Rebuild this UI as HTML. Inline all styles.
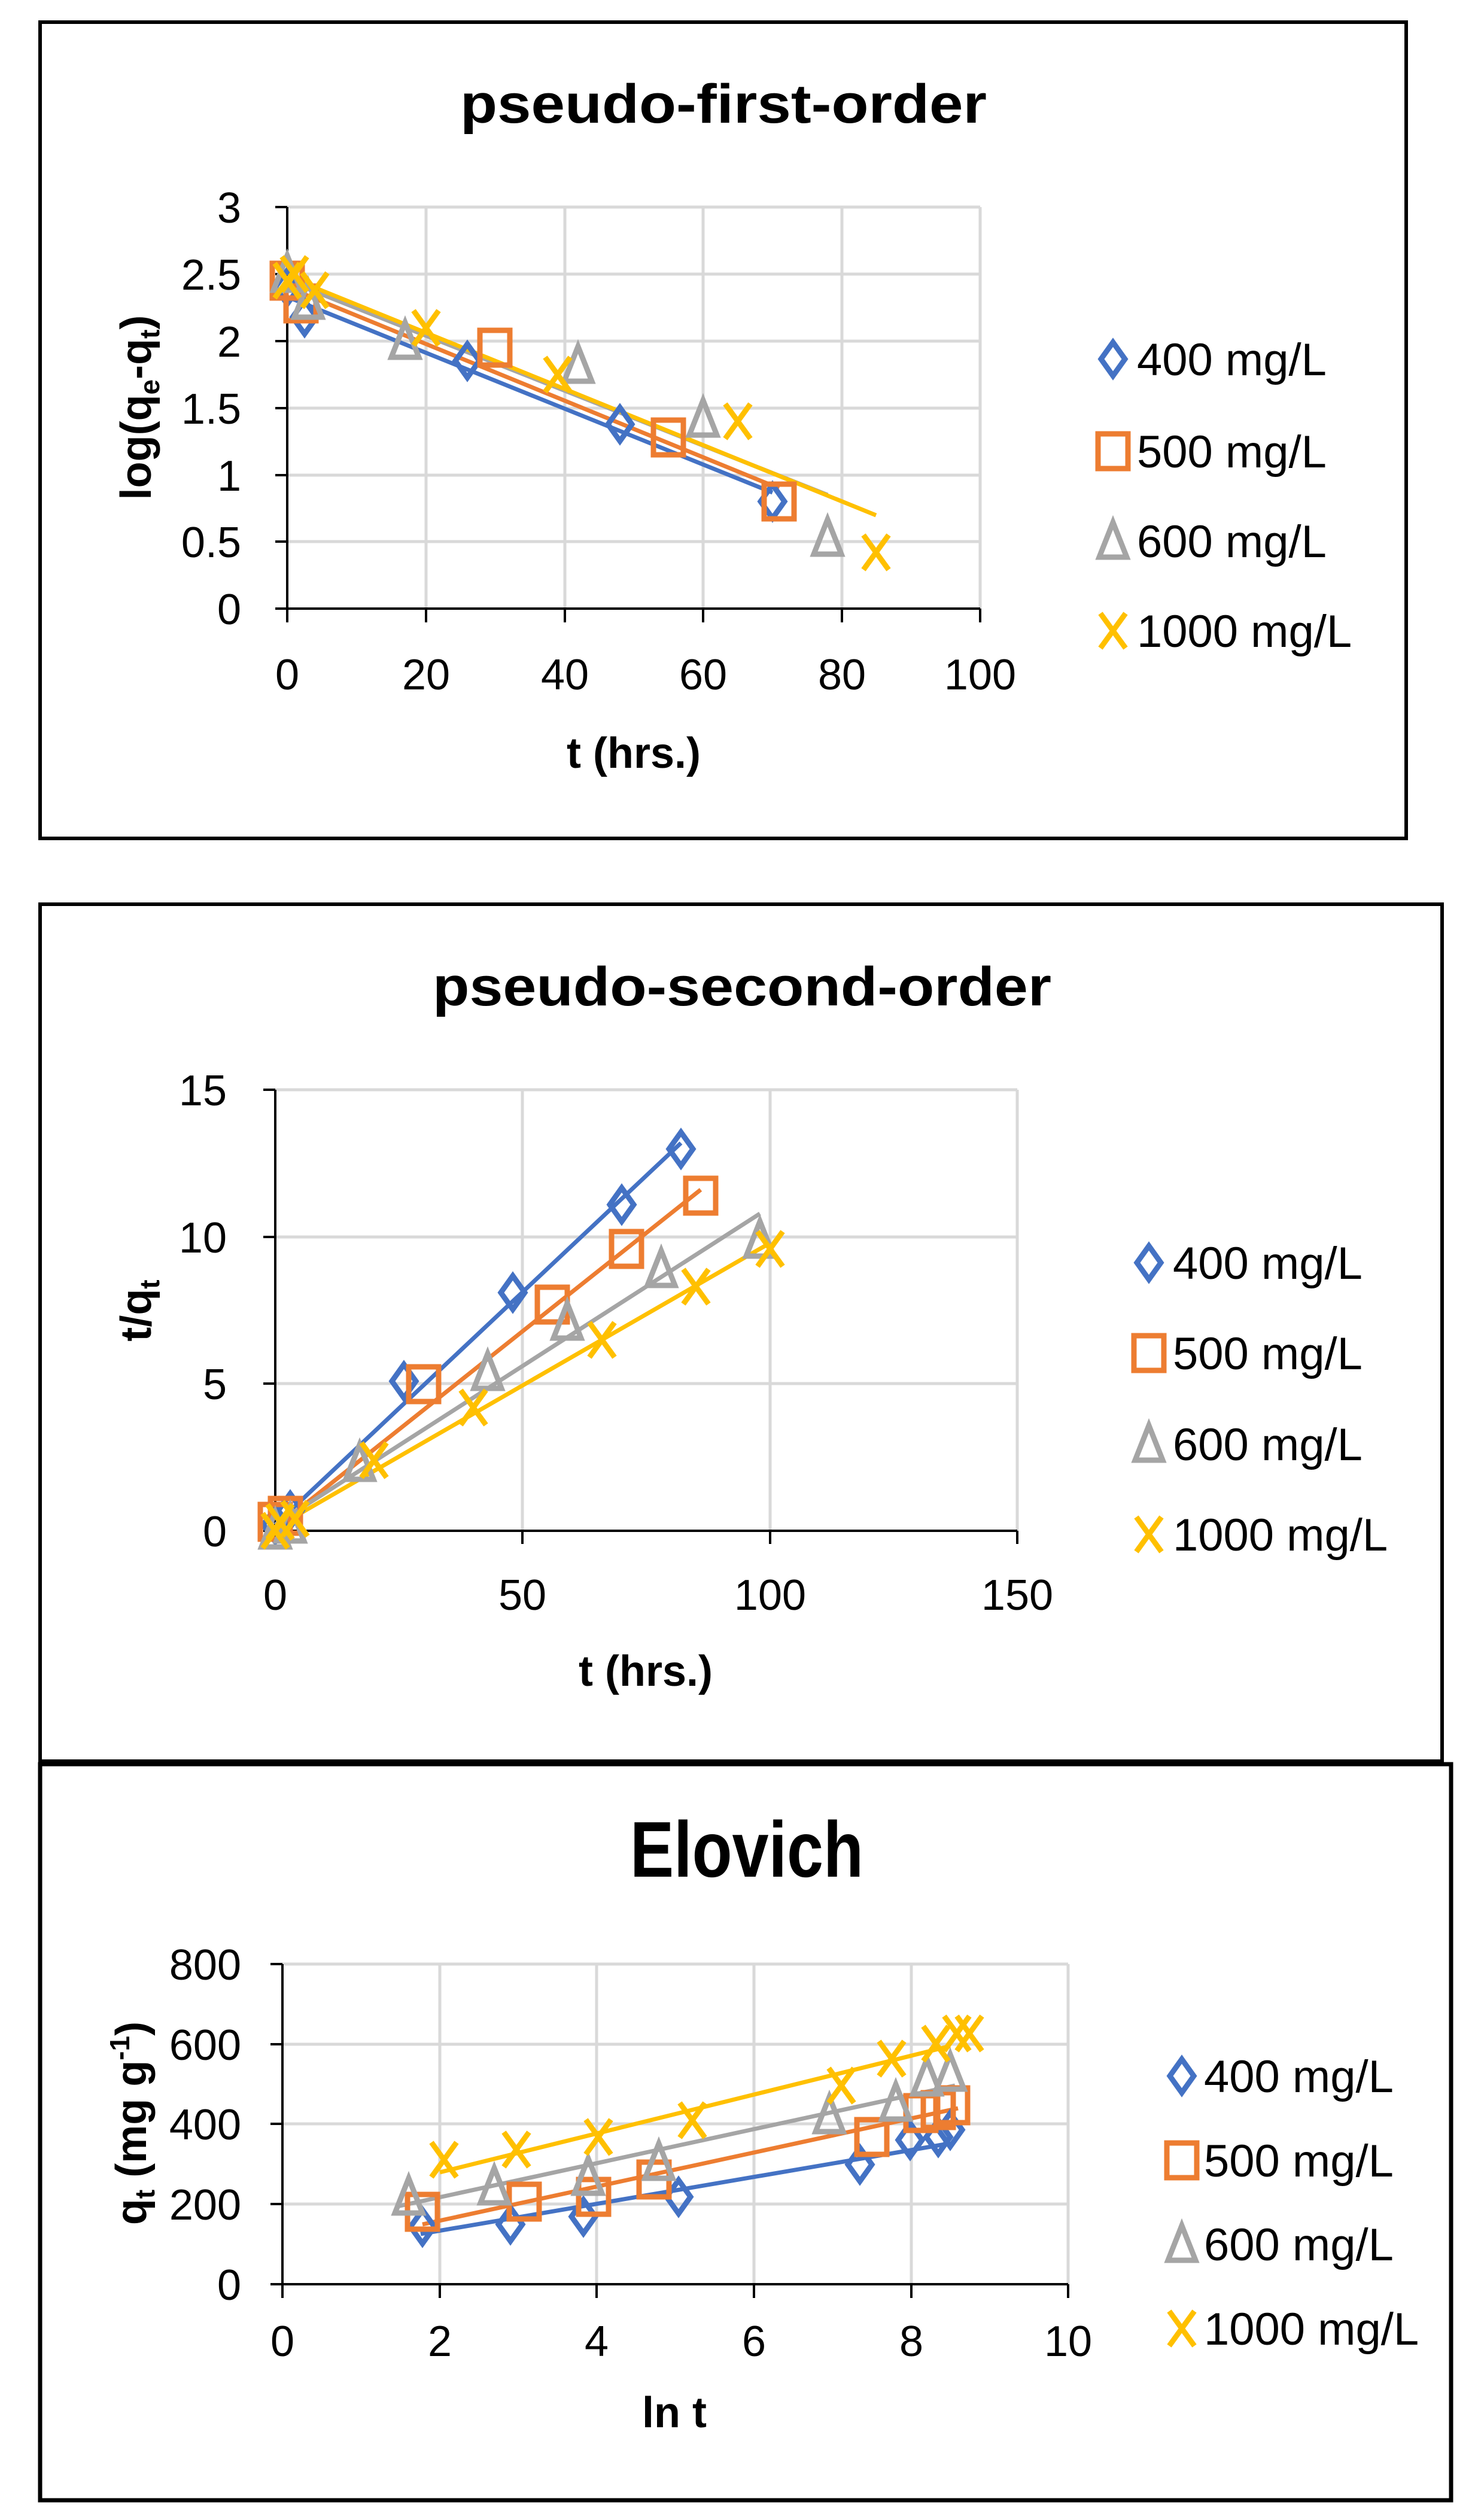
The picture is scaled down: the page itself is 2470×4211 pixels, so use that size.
<!DOCTYPE html>
<html><head><meta charset="utf-8"><style>body{margin:0;background:#fff}svg{display:block}</style></head>
<body>
<svg width="2470" height="4211" viewBox="0 0 2470 4211" xmlns="http://www.w3.org/2000/svg" font-family="Liberation Sans, sans-serif">
<defs>
<g id="d"><path d="M0,-28 L20,0 L0,28 L-20,0Z" fill="none" stroke="#4472C4" stroke-width="9"/></g>
<g id="s"><rect x="-25" y="-29" width="50" height="58" fill="none" stroke="#ED7D31" stroke-width="9"/></g>
<g id="t"><path d="M0,-31 L23,27 L-23,27Z" fill="none" stroke="#A5A5A5" stroke-width="9"/></g>
<g id="x"><path d="M-21,-29 L21,29 M21,-29 L-21,29" fill="none" stroke="#FFC000" stroke-width="9"/></g>
</defs>
<rect width="2470" height="4211" fill="#fff"/>

<!-- Panel 1 -->
<rect x="67" y="37" width="2283" height="1364" fill="none" stroke="#000" stroke-width="6"/>
<text x="1209" y="205" font-size="92" font-weight="bold" text-anchor="middle" textLength="880" lengthAdjust="spacingAndGlyphs">pseudo-first-order</text>
<g stroke="#D9D9D9" stroke-width="5">
<line x1="712" y1="346" x2="712" y2="1017"/><line x1="944" y1="346" x2="944" y2="1017"/><line x1="1175" y1="346" x2="1175" y2="1017"/><line x1="1407" y1="346" x2="1407" y2="1017"/><line x1="1638" y1="346" x2="1638" y2="1017"/>
<line x1="480" y1="346" x2="1638" y2="346"/><line x1="480" y1="458" x2="1638" y2="458"/><line x1="480" y1="570" x2="1638" y2="570"/><line x1="480" y1="682" x2="1638" y2="682"/><line x1="480" y1="794" x2="1638" y2="794"/><line x1="480" y1="905" x2="1638" y2="905"/>
</g>
<g stroke="#000" stroke-width="4">
<line x1="480" y1="346" x2="480" y2="1040"/><line x1="460" y1="1017" x2="1638" y2="1017"/>
<line x1="460" y1="346" x2="480" y2="346"/><line x1="460" y1="458" x2="480" y2="458"/><line x1="460" y1="570" x2="480" y2="570"/><line x1="460" y1="682" x2="480" y2="682"/><line x1="460" y1="794" x2="480" y2="794"/><line x1="460" y1="905" x2="480" y2="905"/>
<line x1="712" y1="1017" x2="712" y2="1040"/><line x1="944" y1="1017" x2="944" y2="1040"/><line x1="1175" y1="1017" x2="1175" y2="1040"/><line x1="1407" y1="1017" x2="1407" y2="1040"/><line x1="1638" y1="1017" x2="1638" y2="1040"/>
</g>
<g font-size="72" text-anchor="end">
<text x="403" y="372">3</text><text x="403" y="484">2.5</text><text x="403" y="596">2</text><text x="403" y="708">1.5</text><text x="403" y="820">1</text><text x="403" y="931">0.5</text><text x="403" y="1043">0</text>
</g>
<g font-size="72" text-anchor="middle">
<text x="480" y="1152">0</text><text x="712" y="1152">20</text><text x="944" y="1152">40</text><text x="1175" y="1152">60</text><text x="1407" y="1152">80</text><text x="1638" y="1152">100</text>
</g>
<text x="1059" y="1283" font-size="72" font-weight="bold" text-anchor="middle">t (hrs.)</text>
<text transform="translate(252,681) rotate(-90)" font-size="72" font-weight="bold" text-anchor="middle">log(q<tspan font-size="46" dy="14">e</tspan><tspan dy="-14">-q</tspan><tspan font-size="46" dy="14">t</tspan><tspan dy="-14">)</tspan></text>
<g stroke-width="7" fill="none">
<line x1="480" y1="496" x2="1291" y2="823" stroke="#4472C4"/>
<line x1="480" y1="480" x2="1302" y2="816" stroke="#ED7D31"/>
<line x1="480" y1="469" x2="1383" y2="827" stroke="#A5A5A5"/>
<line x1="480" y1="462" x2="1464" y2="861" stroke="#FFC000"/>
</g>
<use href="#d" x="480" y="480"/><use href="#d" x="509" y="530"/><use href="#d" x="781" y="603"/><use href="#d" x="1036" y="709"/><use href="#d" x="1291" y="838"/>
<use href="#s" x="480" y="469"/><use href="#s" x="503" y="507"/><use href="#s" x="827" y="581"/><use href="#s" x="1117" y="731"/><use href="#s" x="1302" y="838"/>
<use href="#t" x="480" y="458"/><use href="#t" x="515" y="503"/><use href="#t" x="677" y="570"/><use href="#t" x="966" y="610"/><use href="#t" x="1175" y="700"/><use href="#t" x="1383" y="899"/>
<use href="#x" x="480" y="469"/><use href="#x" x="492" y="458"/><use href="#x" x="526" y="485"/><use href="#x" x="712" y="548"/><use href="#x" x="932" y="626"/><use href="#x" x="1233" y="704"/><use href="#x" x="1464" y="923"/>
<use href="#d" x="1860" y="600"/><use href="#s" x="1860" y="754"/><use href="#t" x="1860" y="904"/><use href="#x" x="1860" y="1054"/>
<g font-size="76"><text x="1900" y="627">400 mg/L</text><text x="1900" y="781">500 mg/L</text><text x="1900" y="931">600 mg/L</text><text x="1900" y="1081">1000 mg/L</text></g>

<!-- Panel 2 -->
<rect x="67" y="1511" width="2343" height="1432" fill="none" stroke="#000" stroke-width="6"/>
<text x="1240" y="1680" font-size="92" font-weight="bold" text-anchor="middle" textLength="1034" lengthAdjust="spacingAndGlyphs">pseudo-second-order</text>
<g stroke="#D9D9D9" stroke-width="5">
<line x1="873" y1="1821" x2="873" y2="2558"/><line x1="1287" y1="1821" x2="1287" y2="2558"/><line x1="1700" y1="1821" x2="1700" y2="2558"/>
<line x1="460" y1="1821" x2="1700" y2="1821"/><line x1="460" y1="2067" x2="1700" y2="2067"/><line x1="460" y1="2312" x2="1700" y2="2312"/>
</g>
<g stroke="#000" stroke-width="4">
<line x1="460" y1="1821" x2="460" y2="2580"/><line x1="440" y1="2558" x2="1700" y2="2558"/>
<line x1="440" y1="1821" x2="460" y2="1821"/><line x1="440" y1="2067" x2="460" y2="2067"/><line x1="440" y1="2312" x2="460" y2="2312"/>
<line x1="873" y1="2558" x2="873" y2="2580"/><line x1="1287" y1="2558" x2="1287" y2="2580"/><line x1="1700" y1="2558" x2="1700" y2="2580"/>
</g>
<g font-size="72" text-anchor="end">
<text x="379" y="1847">15</text><text x="379" y="2093">10</text><text x="379" y="2338">5</text><text x="379" y="2584">0</text>
</g>
<g font-size="72" text-anchor="middle">
<text x="460" y="2690">0</text><text x="873" y="2690">50</text><text x="1287" y="2690">100</text><text x="1700" y="2690">150</text>
</g>
<text x="1079" y="2817" font-size="72" font-weight="bold" text-anchor="middle">t (hrs.)</text>
<text transform="translate(252,2190) rotate(-90)" font-size="72" font-weight="bold" text-anchor="middle">t/q<tspan font-size="46" dy="14">t</tspan></text>
<g stroke-width="7" fill="none">
<line x1="460" y1="2548" x2="1138" y2="1910" stroke="#4472C4"/>
<line x1="460" y1="2553" x2="1171" y2="1988" stroke="#ED7D31"/>
<line x1="460" y1="2548" x2="1270" y2="2028" stroke="#A5A5A5"/>
<line x1="460" y1="2553" x2="1287" y2="2077" stroke="#FFC000"/>
</g>
<use href="#d" x="460" y="2548"/><use href="#d" x="485" y="2524"/><use href="#d" x="675" y="2308"/><use href="#d" x="857" y="2160"/><use href="#d" x="1039" y="2013"/><use href="#d" x="1138" y="1920"/>
<use href="#s" x="460" y="2543"/><use href="#s" x="477" y="2533"/><use href="#s" x="708" y="2313"/><use href="#s" x="923" y="2180"/><use href="#s" x="1047" y="2087"/><use href="#s" x="1171" y="1998"/>
<use href="#t" x="460" y="2558"/><use href="#t" x="485" y="2548"/><use href="#t" x="601" y="2445"/><use href="#t" x="815" y="2293"/><use href="#t" x="948" y="2209"/><use href="#t" x="1105" y="2121"/><use href="#t" x="1270" y="2072"/>
<use href="#x" x="460" y="2558"/><use href="#x" x="468" y="2543"/><use href="#x" x="493" y="2538"/><use href="#x" x="625" y="2440"/><use href="#x" x="791" y="2352"/><use href="#x" x="1006" y="2239"/><use href="#x" x="1163" y="2150"/><use href="#x" x="1287" y="2087"/>
<use href="#d" x="1920" y="2110"/><use href="#s" x="1920" y="2261"/><use href="#t" x="1920" y="2413"/><use href="#x" x="1920" y="2564"/>
<g font-size="76"><text x="1960" y="2137">400 mg/L</text><text x="1960" y="2288">500 mg/L</text><text x="1960" y="2440">600 mg/L</text><text x="1960" y="2591">1000 mg/L</text></g>

<!-- Panel 3 -->
<rect x="67" y="2948" width="2358" height="1230" fill="none" stroke="#000" stroke-width="7"/>
<text x="1248" y="3136" font-size="132" font-weight="bold" text-anchor="middle" textLength="390" lengthAdjust="spacingAndGlyphs">Elovich</text>
<g stroke="#D9D9D9" stroke-width="5">
<line x1="735" y1="3282" x2="735" y2="3817"/><line x1="997" y1="3282" x2="997" y2="3817"/><line x1="1260" y1="3282" x2="1260" y2="3817"/><line x1="1523" y1="3282" x2="1523" y2="3817"/><line x1="1785" y1="3282" x2="1785" y2="3817"/>
<line x1="472" y1="3282" x2="1785" y2="3282"/><line x1="472" y1="3416" x2="1785" y2="3416"/><line x1="472" y1="3549" x2="1785" y2="3549"/><line x1="472" y1="3683" x2="1785" y2="3683"/>
</g>
<g stroke="#000" stroke-width="4">
<line x1="472" y1="3282" x2="472" y2="3840"/><line x1="452" y1="3817" x2="1785" y2="3817"/>
<line x1="452" y1="3282" x2="472" y2="3282"/><line x1="452" y1="3416" x2="472" y2="3416"/><line x1="452" y1="3549" x2="472" y2="3549"/><line x1="452" y1="3683" x2="472" y2="3683"/>
<line x1="735" y1="3817" x2="735" y2="3840"/><line x1="997" y1="3817" x2="997" y2="3840"/><line x1="1260" y1="3817" x2="1260" y2="3840"/><line x1="1523" y1="3817" x2="1523" y2="3840"/><line x1="1785" y1="3817" x2="1785" y2="3840"/>
</g>
<g font-size="72" text-anchor="end">
<text x="403" y="3308">800</text><text x="403" y="3442">600</text><text x="403" y="3575">400</text><text x="403" y="3709">200</text><text x="403" y="3843">0</text>
</g>
<g font-size="72" text-anchor="middle">
<text x="472" y="3937">0</text><text x="735" y="3937">2</text><text x="997" y="3937">4</text><text x="1260" y="3937">6</text><text x="1523" y="3937">8</text><text x="1785" y="3937">10</text>
</g>
<text x="1127" y="4056" font-size="72" font-weight="bold" text-anchor="middle">ln t</text>
<text transform="translate(244,3548) rotate(-90)" font-size="72" font-weight="bold" text-anchor="middle">q<tspan font-size="46" dy="14">t</tspan><tspan dy="-14"> (mg g</tspan><tspan font-size="46" dy="-28">-1</tspan><tspan dy="28">)</tspan></text>
<g stroke-width="7" fill="none">
<line x1="703" y1="3733" x2="1580" y2="3583" stroke="#4472C4"/>
<line x1="706" y1="3717" x2="1601" y2="3523" stroke="#ED7D31"/>
<line x1="664" y1="3687" x2="1596" y2="3485" stroke="#A5A5A5"/>
<line x1="735" y1="3630" x2="1588" y2="3419" stroke="#FFC000"/>
</g>
<use href="#d" x="706" y="3721"/><use href="#d" x="853" y="3717"/><use href="#d" x="975" y="3704"/><use href="#d" x="1134" y="3671"/><use href="#d" x="1437" y="3617"/><use href="#d" x="1521" y="3576"/><use href="#d" x="1568" y="3571"/><use href="#d" x="1588" y="3559"/>
<use href="#s" x="706" y="3696"/><use href="#s" x="876" y="3679"/><use href="#s" x="992" y="3671"/><use href="#s" x="1093" y="3642"/><use href="#s" x="1457" y="3571"/><use href="#s" x="1539" y="3531"/><use href="#s" x="1568" y="3526"/><use href="#s" x="1592" y="3518"/>
<use href="#t" x="683" y="3671"/><use href="#t" x="826" y="3654"/><use href="#t" x="983" y="3638"/><use href="#t" x="1101" y="3613"/><use href="#t" x="1386" y="3535"/><use href="#t" x="1497" y="3514"/><use href="#t" x="1549" y="3472"/><use href="#t" x="1588" y="3464"/>
<use href="#x" x="742" y="3609"/><use href="#x" x="863" y="3592"/><use href="#x" x="1000" y="3571"/><use href="#x" x="1157" y="3543"/><use href="#x" x="1406" y="3485"/><use href="#x" x="1490" y="3440"/><use href="#x" x="1564" y="3415"/><use href="#x" x="1599" y="3398"/><use href="#x" x="1620" y="3398"/>
<use href="#d" x="1975" y="3469"/><use href="#s" x="1975" y="3610"/><use href="#t" x="1975" y="3750"/><use href="#x" x="1975" y="3891"/>
<g font-size="76"><text x="2012" y="3496">400 mg/L</text><text x="2012" y="3637">500 mg/L</text><text x="2012" y="3777">600 mg/L</text><text x="2012" y="3918">1000 mg/L</text></g>
</svg>
</body></html>
